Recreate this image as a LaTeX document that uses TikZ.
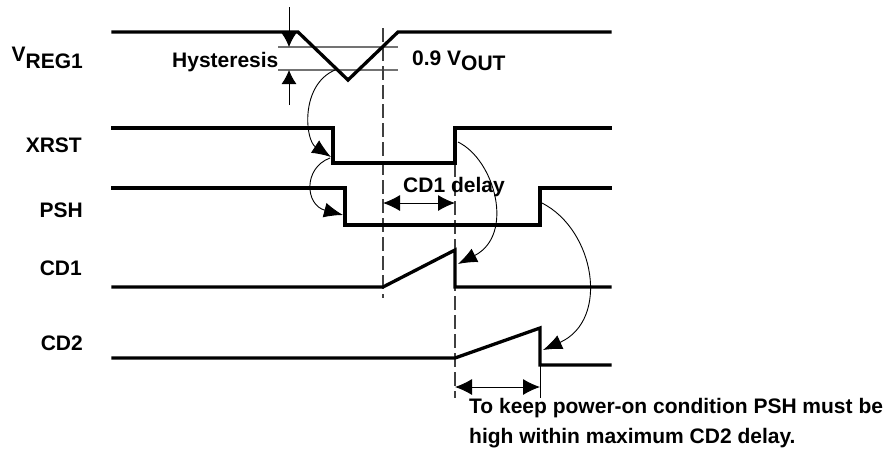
\documentclass[tikz,border=0pt]{standalone}
\usepackage{fontspec}
\setmainfont{Liberation Sans}
\usetikzlibrary{arrows.meta}
\begin{document}
\begin{tikzpicture}[x=1pt,y=-1pt,
  sig/.style={line width=3.3pt,line join=miter,line cap=rect},
  thin/.style={line width=0.9pt},
  hyst/.style={line width=1.1pt,draw=black!55},
  dashline/.style={line width=1.1pt,draw=black!75,dash pattern=on 14pt off 5pt},
  tip/.style={-{Latex[length=19pt,width=15pt]}},
  vtip/.style={-{Latex[length=14pt,width=15pt]}},
  dtip/.style={{Latex[length=17pt,width=16pt]}-{Latex[length=17pt,width=16pt]}},
  lbl/.style={inner sep=0pt,font=\fontsize{21}{25}\selectfont\bfseries}]
\useasboundingbox (0,0) rectangle (889,451);
% coordinates
\coordinate (v0) at (113,32); \coordinate (v1) at (298,32); \coordinate (v2) at (348,80);
\coordinate (v3) at (398,32); \coordinate (v4) at (610,32);
\coordinate (x0) at (113,128); \coordinate (x1) at (333,128); \coordinate (x2) at (333,163);
\coordinate (x3) at (455,163); \coordinate (x4) at (455,128); \coordinate (x5) at (610,128);
\coordinate (p0) at (113,188); \coordinate (p1) at (345,188); \coordinate (p2) at (345,225);
\coordinate (p3) at (540,225); \coordinate (p4) at (540,188); \coordinate (p5) at (610,188);
\coordinate (c0) at (113,287); \coordinate (c1) at (383,287); \coordinate (c2) at (455,250);
\coordinate (c3) at (455,287); \coordinate (c4) at (610,287);
\coordinate (d0) at (113,358); \coordinate (d1) at (455,358); \coordinate (d2) at (540,328);
\coordinate (d3) at (540,365); \coordinate (d4) at (610,365);
% hysteresis guides
\coordinate (h1a) at (278,47); \coordinate (h1b) at (398,47);
\coordinate (h2a) at (278,70); \coordinate (h2b) at (398,70);
\draw[hyst] (h1a) -- (h1b);
\draw[hyst] (h2a) -- (h2b);
\coordinate (ha0) at (289,7); \coordinate (ha1) at (289,47);
\coordinate (hb0) at (289,105); \coordinate (hb1) at (289,70);
\draw[thin,vtip] (ha0) -- (ha1);
\draw[thin,vtip] (hb0) -- (hb1);
% dashed lines
\coordinate (dl1a) at (383,28); \coordinate (dl1b) at (383,298);
\coordinate (dl2a) at (455,163); \coordinate (dl2b) at (455,398);
\draw[dashline] (dl1a) -- (dl1b);
\draw[dashline] (dl2a) -- (dl2b);
% signals
\draw[sig] (v0) -- (v1) -- (v2) -- (v3) -- (v4);
\draw[sig] (x0) -- (x1) -- (x2) -- (x3) -- (x4) -- (x5);
\draw[sig] (p0) -- (p1) -- (p2) -- (p3) -- (p4) -- (p5);
\draw[sig] (c0) -- (c1) -- (c2) -- (c3) -- (c4);
\draw[sig] (d0) -- (d1) -- (d2) -- (d3) -- (d4);
% CD1 delay arrow
\coordinate (cda) at (383,203); \coordinate (cdb) at (455,203);
\draw[thin,dtip] (cda) -- (cdb);
% CD2 delay arrow
\coordinate (t2a) at (540,365); \coordinate (t2b) at (540,398);
\draw[thin] (t2a) -- (t2b);
\coordinate (eda) at (455,387); \coordinate (edb) at (540,387);
\draw[thin,dtip] (eda) -- (edb);
% curved arrows
\coordinate (k1s) at (335,70); \coordinate (k1e) at (331,157);
\draw[thin,tip] (k1s) .. controls (300,85) and (305,140) .. (k1e);
\coordinate (k2s) at (330,158); \coordinate (k2e) at (343,215);
\draw[thin,tip] (k2s) .. controls (303,168) and (305,205) .. (k2e);
\coordinate (k3s) at (458,142); \coordinate (k3e) at (458,264);
\draw[thin,tip] (k3s) .. controls (495,160) and (515,235) .. (k3e);
\coordinate (k4s) at (542,203); \coordinate (k4e) at (543,350);
\draw[thin,tip] (k4s) .. controls (595,230) and (610,320) .. (k4e);
% labels
\node[lbl,anchor=base east] (lv) at (83,68) {\raisebox{7pt}{V}REG1};
\node[lbl,anchor=base east] (lx) at (82,152) {XRST};
\node[lbl,anchor=base east] (lp) at (83,217) {PSH};
\node[lbl,anchor=base east] (lc1) at (82,275) {CD1};
\node[lbl,anchor=base east] (lc2) at (83,350) {CD2};
\node[lbl,anchor=base west] (lh) at (172,67) {Hysteresis};
\node[lbl,anchor=base west] (lo) at (412,65) {0.9 V\raisebox{-5pt}{OUT}};
\node[lbl,anchor=base west] (ld) at (403,192) {CD1 delay};
\node[lbl,anchor=base west] (lt1) at (469,413) {To keep power-on condition PSH must be};
\node[lbl,anchor=base west] (lt2) at (469,443) {high within maximum CD2 delay.};
\end{tikzpicture}
\end{document}
